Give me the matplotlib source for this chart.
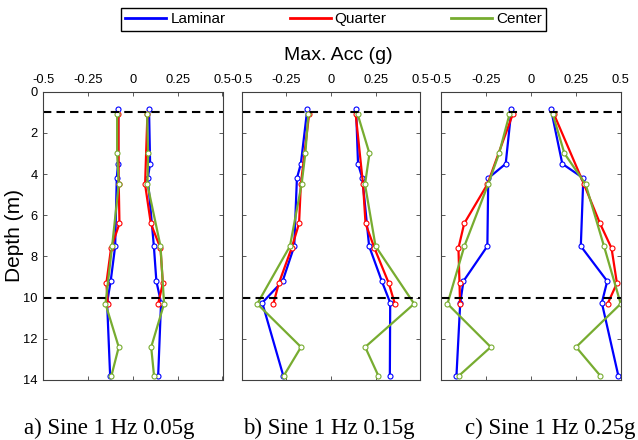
import matplotlib
matplotlib.use("Agg")
import matplotlib.pyplot as plt
from matplotlib.lines import Line2D

plt.rcParams.update({
    "font.family": ["Liberation Sans", "DejaVu Sans"],
    "axes.edgecolor": "#404040",
    "axes.linewidth": 0.8,
})

# sensor depths (m) for each array
depth_lam = [0.85, 3.5, 4.2, 7.5, 9.2, 10.25, 13.8]
depth_qtr = [1.1, 4.5, 6.4, 7.6, 9.3, 10.3]
depth_ctr = [1.1, 3.0, 4.5, 7.5, 10.3, 12.4, 13.8]

# a) Sine 1 Hz 0.05g
lam_min_a = [-0.081, -0.083, -0.090, -0.099, -0.124, -0.144, -0.127]
lam_max_a = [0.090, 0.096, 0.083, 0.117, 0.131, 0.157, 0.141]
qtr_min_a = [-0.081, -0.079, -0.075, -0.122, -0.148, -0.140]
qtr_max_a = [0.081, 0.068, 0.100, 0.154, 0.167, 0.141]
ctr_min_a = [-0.088, -0.088, -0.079, -0.116, -0.153, -0.079, -0.120]
ctr_max_a = [0.079, 0.085, 0.081, 0.154, 0.174, 0.102, 0.118]

# b) Sine 1 Hz 0.15g
lam_min_b = [-0.133, -0.169, -0.191, -0.206, -0.271, -0.385, -0.267]
lam_max_b = [0.140, 0.151, 0.175, 0.213, 0.284, 0.331, 0.329]
qtr_min_b = [-0.123, -0.169, -0.179, -0.221, -0.292, -0.323]
qtr_max_b = [0.138, 0.179, 0.193, 0.243, 0.323, 0.357]
ctr_min_b = [-0.127, -0.144, -0.165, -0.230, -0.413, -0.168, -0.265]
ctr_max_b = [0.149, 0.215, 0.190, 0.249, 0.465, 0.191, 0.265]

# c) Sine 1 Hz 0.25g
lam_min_c = [-0.108, -0.140, -0.237, -0.242, -0.375, -0.393, -0.414]
lam_max_c = [0.112, 0.175, 0.292, 0.278, 0.425, 0.395, 0.487]
qtr_min_c = [-0.101, -0.242, -0.371, -0.403, -0.397, -0.394]
qtr_max_c = [0.129, 0.296, 0.385, 0.449, 0.479, 0.427]
ctr_min_c = [-0.119, -0.177, -0.238, -0.370, -0.464, -0.223, -0.401]
ctr_max_c = [0.122, 0.187, 0.305, 0.407, 0.500, 0.252, 0.387]

captions = ["a) Sine 1 Hz 0.05g", "b) Sine 1 Hz 0.15g", "c) Sine 1 Hz 0.25g"]
xticks = [-0.5, -0.25, 0, 0.25, 0.5]
xticklabels = ["-0.5", "-0.25", "0", "0.25", "0.5"]
yticks = [0, 2, 4, 6, 8, 10, 12, 14]
dash_depths = [1, 10]

C_LAM, C_QTR, C_CTR = "#0000FF", "#FF0000", "#77AC30"

panels = [
    (lam_min_a, lam_max_a, qtr_min_a, qtr_max_a, ctr_min_a, ctr_max_a),
    (lam_min_b, lam_max_b, qtr_min_b, qtr_max_b, ctr_min_b, ctr_max_b),
    (lam_min_c, lam_max_c, qtr_min_c, qtr_max_c, ctr_min_c, ctr_max_c),
]

W, H = 638, 440
fig = plt.figure(figsize=(W / 100, H / 100), dpi=100)
lefts = [43.3, 241.7, 441.0]
widths = [179.2, 178.7, 179.7]
top, bot = 91.7, 380.0

mk = dict(marker="o", markersize=3.6, markerfacecolor="white", markeredgewidth=0.8)

for i, (ax_left, w, data) in enumerate(zip(lefts, widths, panels)):
    ax = fig.add_axes([ax_left / W, 1 - bot / H, w / W, (bot - top) / H])
    lmin, lmax, qmin, qmax, cmin, cmax = data
    for xs, d, c in [(lmin, depth_lam, C_LAM), (lmax, depth_lam, C_LAM),
                     (qmin, depth_qtr, C_QTR), (qmax, depth_qtr, C_QTR),
                     (cmin, depth_ctr, C_CTR), (cmax, depth_ctr, C_CTR)]:
        ax.plot(xs, d, color=c, lw=1.6, markeredgecolor=c, **mk)
    for dd in dash_depths:
        ax.axhline(dd, color="black", lw=1.5, dashes=(4, 2.5))
    ax.set_xlim(-0.5, 0.5)
    ax.set_ylim(14, 0)
    ax.set_xticks(xticks)
    ax.set_xticklabels(xticklabels)
    ax.set_yticks(yticks)
    ax.tick_params(direction="in", top=True, bottom=True, left=True, right=True,
                   labeltop=True, labelbottom=False, length=3, width=0.6,
                   labelsize=9.3, pad=4, color="#404040")
    if i > 0:
        ax.set_yticklabels([])
    fig.text((ax_left + w / 2) / W + [-0.037, -0.003, 0.03][i], 6 / H, captions[i],
             ha="center", va="baseline", fontsize=16.5, family="Liberation Serif")

fig.text(338.5 / W, 1 - 56 / H, "Max. Acc (g)", ha="center", va="center", fontsize=14)
fig.text(15 / W, 1 - 236 / H, "Depth (m)", ha="center", va="center",
         rotation=90, fontsize=15)

handles = [Line2D([], [], color=C_LAM, lw=2), Line2D([], [], color=C_QTR, lw=2),
           Line2D([], [], color=C_CTR, lw=2)]
fig.legend(handles, ["Laminar", "Quarter", "Center"], loc="center",
           bbox_to_anchor=(333.5 / W, 1 - 19.3 / H), ncol=3, fontsize=11,
           handlelength=2.7, handletextpad=0.25, columnspacing=4.2,
           borderpad=0.3, fancybox=False, edgecolor="black", framealpha=1)

fig.savefig("out.png", dpi=100, facecolor="white")
